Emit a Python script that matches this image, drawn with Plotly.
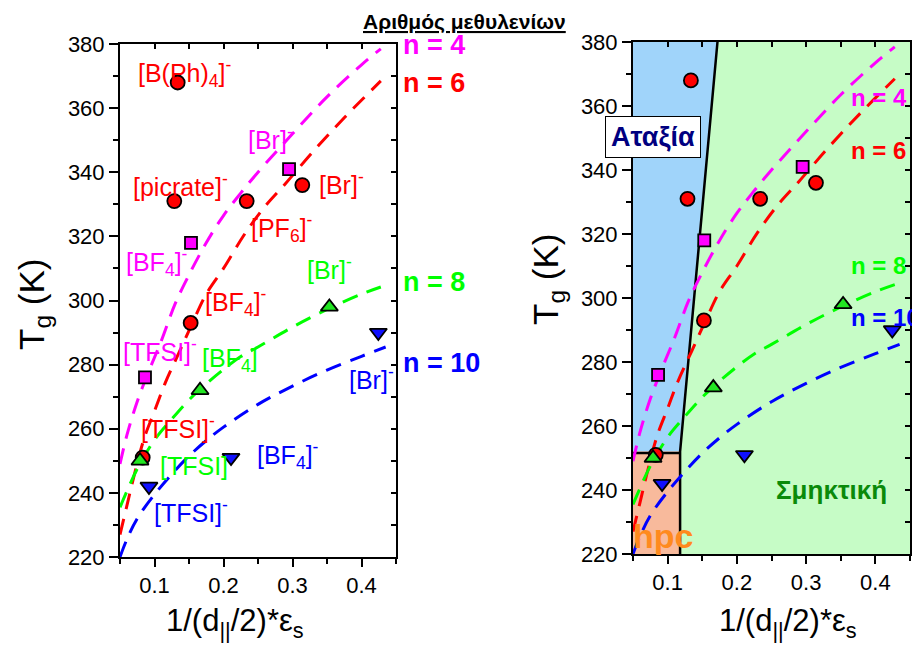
import plotly.graph_objects as go

# ---------------- data ----------------
# measured glass transition temperatures (markers)
n4_x = [0.0862, 0.1529, 0.2950]
n4_T = [276, 318, 341]
n6_x = [0.1336, 0.1287, 0.2336, 0.3142, 0.1524, 0.0829]
n6_T = [368, 331, 331, 336, 293, 251]
n8_x = [0.3534, 0.1660, 0.0790]
n8_T = [298, 272, 250]
n10_x = [0.4244, 0.2109, 0.0920]
n10_T = [290, 251, 242]

# dashed guide curves
c4_x = [0.05, 0.06, 0.075, 0.09, 0.11, 0.13, 0.15, 0.175, 0.2, 0.225, 0.25, 0.3, 0.35, 0.4, 0.428]
c4_T = [249, 258, 268.5, 277, 287.5, 299, 308, 318, 326.5, 333.5, 340, 352, 363.5, 373.5, 378.5]
c6_x = [0.05, 0.06, 0.07, 0.085, 0.1, 0.115, 0.135, 0.155, 0.175, 0.2, 0.23, 0.26, 0.29, 0.33, 0.375, 0.428]
c6_T = [227, 236, 245, 257, 265.5, 274, 283.5, 293, 302, 310, 320.5, 329.3, 336.5, 346.5, 357, 368.5]
c8_x = [0.05, 0.06, 0.075, 0.1, 0.125, 0.15, 0.175, 0.2, 0.225, 0.25, 0.3, 0.35, 0.4, 0.428]
c8_T = [235.5, 240.5, 247.5, 256.5, 263, 269, 274, 278.5, 282.5, 285.5, 291.7, 297.2, 302, 304.2]
c10_x = [0.05, 0.06, 0.075, 0.1, 0.125, 0.15, 0.175, 0.2, 0.25, 0.3, 0.35, 0.4, 0.435]
c10_T = [220, 225.5, 232, 239.5, 245.8, 251.5, 256.3, 260.5, 267.6, 273.3, 278.3, 282.6, 285.5]

# phase regions (right panel)
disorder_x = [0.05, 0.172, 0.118, 0.05]
disorder_T = [380, 380, 252, 252]
hpc_x = [0.05, 0.118, 0.118, 0.05]
hpc_T = [252, 252, 220, 220]
smectic_x = [0.172, 0.45, 0.45, 0.118, 0.118]
smectic_T = [380, 380, 220, 220, 252]
boundary_x = [0.172, 0.118, 0.118]
boundary_T = [380, 252, 220]
hpc_top_x = [0.05, 0.118]
hpc_top_T = [251.6, 251.6]

# tick labels
x_major = [0.1, 0.2, 0.3, 0.4]
x_major_text = ["0.1", "0.2", "0.3", "0.4"]
x_minor = [0.05, 0.15, 0.25, 0.35, 0.45]
y_major = [220, 240, 260, 280, 300, 320, 340, 360, 380]
y_major_text = [str(v) for v in y_major]
y_minor = [230, 250, 270, 290, 310, 330, 350, 370]

MAG = "#FF00FF"
RED = "#FF0000"
GRN = "#00FF00"
BLU = "#0000FF"
FONT = "Arial, Liberation Sans, sans-serif"

fig = go.Figure()

# regions right panel
for xs, ts, col in [(smectic_x, smectic_T, "#C6FCC6"),
                    (disorder_x, disorder_T, "#A0D4FA"),
                    (hpc_x, hpc_T, "#F8BA9C")]:
    fig.add_trace(go.Scatter(x=xs, y=ts, xaxis="x2", yaxis="y2", fill="toself",
                             fillcolor=col, mode="lines", line=dict(width=0),
                             showlegend=False, hoverinfo="skip"))
for xs, ts in [(boundary_x, boundary_T), (hpc_top_x, hpc_top_T)]:
    fig.add_trace(go.Scatter(x=xs, y=ts, xaxis="x2", yaxis="y2", mode="lines",
                             line=dict(color="black", width=2.5),
                             showlegend=False, hoverinfo="skip"))

curves = [(c4_x, c4_T, MAG), (c6_x, c6_T, RED), (c8_x, c8_T, GRN), (c10_x, c10_T, BLU)]
points = [(n4_x, n4_T, MAG, "square", 12),
          (n6_x, n6_T, RED, "circle", 14),
          (n8_x, n8_T, "#22E622", "triangle-up", 15),
          (n10_x, n10_T, "#1010FF", "triangle-down", 15)]

for xa, ya in [("x", "y"), ("x2", "y2")]:
    for xs, ts, col in curves:
        fig.add_trace(go.Scatter(x=xs, y=ts, xaxis=xa, yaxis=ya, mode="lines",
                                 line=dict(color=col, width=3, dash="16px,10px", shape="spline"),
                                 showlegend=False, hoverinfo="skip"))
    for xs, ts, col, sym, sz in points:
        fig.add_trace(go.Scatter(x=xs, y=ts, xaxis=xa, yaxis=ya, mode="markers",
                                 marker=dict(color=col, symbol=sym, size=sz,
                                             line=dict(color="black", width=1.8)),
                                 showlegend=False, cliponaxis=False))

# invisible traces for inside-tick mirror axes
for xa, ya in [("x3", "y3"), ("x4", "y4")]:
    fig.add_trace(go.Scatter(x=[None], y=[None], xaxis=xa, yaxis=ya, showlegend=False,
                             hoverinfo="skip"))

W, H = 920, 649
OFF = 8  # page body margin offset


def P(px, py):
    return (px - OFF) / W, 1 - (py - OFF) / H


xd1 = [P(120, 0)[0], P(396, 0)[0]]
yd1 = [P(0, 557)[1], P(0, 44)[1]]
xd2 = [P(633, 0)[0], P(910, 0)[0]]
yd2 = [P(0, 554)[1], P(0, 42)[1]]


def xax(domain, anchor):
    return dict(domain=domain, anchor=anchor, range=[0.05, 0.45], tickmode="array",
                tickvals=x_major, ticktext=x_major_text, ticks="outside", ticklen=8,
                tickwidth=1.5, tickcolor="black", showline=True, linecolor="black",
                linewidth=2, showgrid=False, zeroline=False, automargin=False,
                tickfont=dict(family=FONT, size=22, color="black"),
                minor=dict(tickvals=x_minor, ticks="outside", ticklen=5, tickwidth=1.5,
                           tickcolor="black", showgrid=False))


def yax(domain, anchor):
    return dict(domain=domain, anchor=anchor, range=[220, 380], tickmode="array",
                tickvals=y_major, ticktext=y_major_text, ticks="outside", ticklen=9,
                tickwidth=1.5, tickcolor="black", showline=True, linecolor="black",
                linewidth=2, showgrid=False, zeroline=False, automargin=False,
                tickfont=dict(family=FONT, size=22, color="black"),
                minor=dict(tickvals=y_minor, ticks="outside", ticklen=5, tickwidth=1.5,
                           tickcolor="black", showgrid=False))


def xmirror(over, anchor):
    return dict(overlaying=over, anchor=anchor, side="top", range=[0.05, 0.45],
                tickmode="array", tickvals=x_major + x_minor, ticks="inside", ticklen=5,
                tickwidth=1.5, tickcolor="black", showticklabels=False, showline=True,
                linecolor="black", linewidth=2, showgrid=False, zeroline=False,
                automargin=False)


def ymirror(over, anchor):
    return dict(overlaying=over, anchor=anchor, side="right", range=[220, 380],
                tickmode="array", tickvals=y_major + y_minor, ticks="inside", ticklen=5,
                tickwidth=1.5, tickcolor="black", showticklabels=False, showline=True,
                linecolor="black", linewidth=2, showgrid=False, zeroline=False,
                automargin=False)


fig.update_layout(
    template="none",
    width=W, height=H, margin=dict(l=0, r=0, t=0, b=0, autoexpand=False),
    paper_bgcolor="white", plot_bgcolor="rgba(0,0,0,0)", showlegend=False,
    xaxis=xax(xd1, "y"), yaxis=yax(yd1, "x"),
    xaxis2=xax(xd2, "y2"), yaxis2=yax(yd2, "x2"),
    xaxis3=xmirror("x", "y"), yaxis3=ymirror("y", "x"),
    xaxis4=xmirror("x2", "y2"), yaxis4=ymirror("y2", "x2"),
)

ann = []


def A(text, x, y, color, size, xref="x", yref="y", bold=False, **kw):
    t = "<b>" + text + "</b>" if bold else text
    d = dict(text=t, x=x, y=y, xref=xref, yref=yref, showarrow=False,
             font=dict(family=FONT, size=size, color=color), xanchor="center",
             yanchor="middle")
    d.update(kw)
    ann.append(d)


# anion labels, left panel
lab = [
    ("[B(Ph)<sub>4</sub>]<sup>-</sup>", 0.1442, 371.0, RED),
    ("[Br]<sup>-</sup>", 0.2674, 350.7, MAG),
    ("[picrate]<sup>-</sup>", 0.137, 336.0, RED),
    ("[Br]<sup>-</sup>", 0.3717, 336.6, RED),
    ("[PF<sub>6</sub>]<sup>-</sup>", 0.2848, 322.6, RED),
    ("[BF<sub>4</sub>]<sup>-</sup>", 0.1036, 312.0, MAG),
    ("[Br]<sup>-</sup>", 0.3543, 310.1, GRN),
    ("[BF<sub>4</sub>]<sup>-</sup>", 0.2181, 299.5, RED),
    ("[TFSI]<sup>-</sup>", 0.108, 284.6, MAG),
    ("[BF<sub>4</sub>]", 0.2094, 281.4, GRN),
    ("[Br]<sup>-</sup>", 0.4152, 275.8, BLU),
    ("[TFSI]<sup>-</sup>", 0.134, 260.5, RED),
    ("[BF<sub>4</sub>]<sup>-</sup>", 0.2935, 251.8, BLU),
    ("[TFSI]", 0.1572, 248.4, GRN),
    ("[TFSI]<sup>-</sup>", 0.1529, 234.3, BLU),
]
for t, x, y, c in lab:
    A(t, x, y, c, 25)

# n labels
for t, c, py in [("n = 4", MAG, 45), ("n = 6", RED, 83), ("n = 8", GRN, 282), ("n = 10", BLU, 363)]:
    x, y = P(401, py)
    A(t, x, y, c, 27, xref="paper", yref="paper", bold=True, xanchor="left")
for t, c, py in [("n = 4", MAG, 98), ("n = 6", RED, 151), ("n = 8", GRN, 265), ("n = 10", BLU, 317)]:
    x, y = P(849, py)
    A(t, x, y, c, 24, xref="paper", yref="paper", bold=True, xanchor="left")

# region labels
x, y = P(653, 137)
A("Αταξία", x, y, "#000080", 27, xref="paper", yref="paper", bold=True,
  bgcolor="white", bordercolor="black", borderwidth=1, borderpad=5)
x, y = P(831, 490)
A("Σμηκτική", x, y, "#0A8A0A", 26, xref="paper", yref="paper", bold=True)
x, y = P(663, 536)
A("hpc", x, y, "#FF8A1E", 34, xref="paper", yref="paper", bold=True)

# title (top of box at the figure top)
x, _ = P(464, 0)
A("<u>Αριθμός μεθυλενίων</u>", x, 1.0, "black", 21, xref="paper", yref="paper",
  bold=True, yanchor="top")

# axis titles
for px, py in [(235, 623), (788, 623)]:
    x, y = P(px, py)
    A("1/(d<sub>||</sub>/2)*ε<sub>s</sub>", x, y, "black", 31, xref="paper", yref="paper")
for px, py in [(34, 305), (548, 280)]:
    x, y = P(px, py)
    A("T<sub>g</sub> (K)", x, y, "black", 35, xref="paper", yref="paper", textangle=-90)

fig.update_layout(annotations=ann)
fig.write_html("out.html")
